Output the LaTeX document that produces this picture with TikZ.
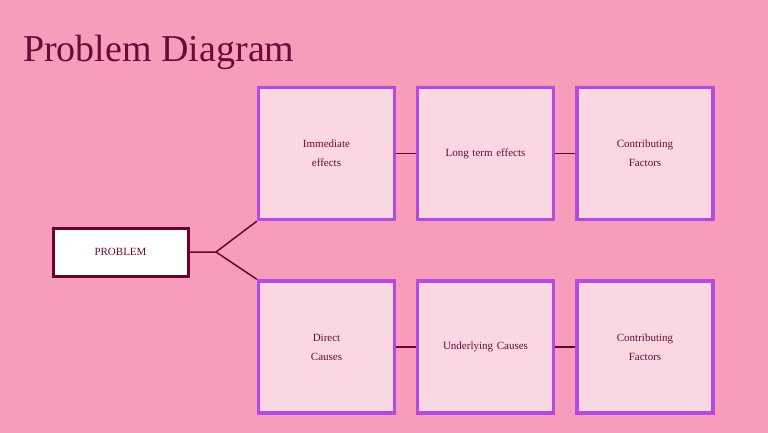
\documentclass[tikz,border=0pt]{standalone}
\usepackage{fontspec}
\setmainfont{Liberation Serif}
\definecolor{bg}{HTML}{F79CBA}
\definecolor{boxfill}{HTML}{FBD7E3}
\definecolor{boxline}{HTML}{B44BE1}
\definecolor{ink}{HTML}{6B0A3A}
\definecolor{pline}{HTML}{6B0030}
\begin{document}
\begin{tikzpicture}[x=1pt,y=-1pt,
  cell/.style={draw=boxline,line width=3.5pt,fill=boxfill,minimum width=136pt,minimum height=132pt,text width=120pt,align=center,font=\fontsize{11}{19}\selectfont,text=ink},
  prob/.style={draw=pline,line width=3pt,fill=white,minimum width=135pt,minimum height=48pt,font=\fontsize{11}{13}\selectfont,text=ink},
  link/.style={draw=pline,line width=1.5pt}]
\fill[bg] (0,0) rectangle (768,433);
\node[anchor=base west,text=ink,font=\fontsize{38}{40}\selectfont,inner sep=0] (title) at (23,62) {Problem Diagram};
\node[prob] (p) at (120.5,252) {PROBLEM};
\node[cell] (a1) at (326.5,153.5) {Immediate\\effects};
\node[cell] (a2) at (485.5,153.5) {Long term effects\\[19pt]};
\node[cell] (a3) at (645,153.5) {Contributing\\Factors};
\node[cell] (b1) at (326.5,347) {Direct\\Causes};
\node[cell] (b2) at (485.5,347) {Underlying Causes\\[19pt]};
\node[cell] (b3) at (645,347) {Contributing\\Factors};
\coordinate (j) at (216,252);
\draw[link] (p.east) -- (j) -- (a1.south west);
\draw[link] (j) -- (b1.north west);
\draw[link] (a1) -- (a2); \draw[link] (a2) -- (a3);
\draw[link] (b1) -- (b2); \draw[link] (b2) -- (b3);
\end{tikzpicture}
\end{document}
